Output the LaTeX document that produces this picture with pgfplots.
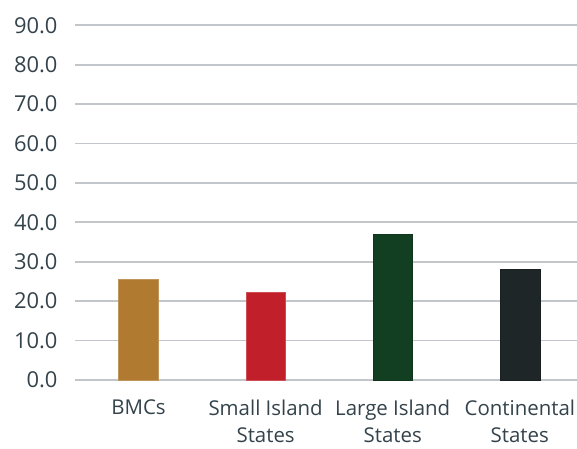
\documentclass[border=0pt]{standalone}
\usepackage{pgfplots}
\pgfplotsset{compat=1.18}
\usepackage{fontspec}
\setmainfont{Open Sans}

\definecolor{bmc}{HTML}{B07B30}
\definecolor{small}{HTML}{C1202A}
\definecolor{large}{HTML}{123F22}
\definecolor{cont}{HTML}{1F2628}
\definecolor{txt}{HTML}{34434B}
\definecolor{gridc}{HTML}{C2C6CB}

\begin{document}
\begin{tikzpicture}
\useasboundingbox (0,0) rectangle (577bp,449bp);
\begin{axis}[
  at={(75bp,69bp)}, anchor=south west,
  scale only axis,
  width=502bp, height=354.7bp,
  xmin=-0.5, xmax=3.45,
  ymin=0, ymax=90,
  ytick={0,10,...,90},
  xtick={0,1,2,3},
  xticklabels={BMCs,{Small Island\\States},{Large Island\\States},{Continental\\States}},
  axis line style={draw=none},
  major tick length=0pt,
  ymajorgrids,
  grid style={gridc, line width=1.8bp},
  tick label style={font=\fontsize{20.5}{28}\selectfont, text=txt},
  xticklabel style={align=center, yshift=-16bp},
  yticklabel style={xshift=-14bp, font=\fontsize{22}{26}\selectfont},
  /pgf/number format/assume math mode=true,
  yticklabel={\pgfmathprintnumber[fixed,fixed zerofill,precision=1]{\tick}},
  ybar, bar width=0.313, bar shift=0pt,
  clip=false,
]
\addplot[fill=bmc, draw=bmc!80!white] coordinates {(0,25.7)};
\addplot[fill=small, draw=small!80!white] coordinates {(1,22.4)};
\addplot[fill=large, draw=large!85!black] coordinates {(2,37.1)};
\addplot[fill=cont, draw=cont!85!black] coordinates {(3,28.2)};
\end{axis}
\end{tikzpicture}
\end{document}
